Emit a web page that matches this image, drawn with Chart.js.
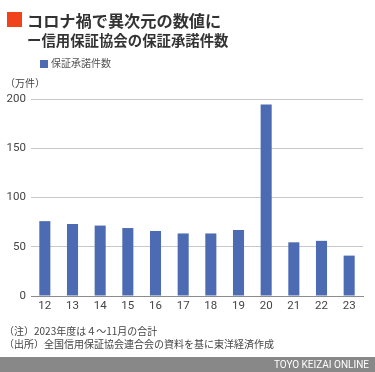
<!DOCTYPE html>
<html><head><meta charset="utf-8">
<script src="https://cdn.jsdelivr.net/npm/chart.js@4"></script>
<style>
html,body{margin:0;padding:0;background:#fff;}
#wrap{position:relative;width:375px;height:372px;overflow:hidden;font-family:"Noto Sans CJK JP",Roboto,sans-serif;}
#c{position:absolute;left:0;top:0;}
.t{position:absolute;white-space:nowrap;color:#333;line-height:1;}
#sq{position:absolute;left:7px;top:12px;width:15px;height:15px;background:#f0431c;}
#t1{left:27px;top:11.5px;font-size:16.2px;font-weight:bold;}
#t2{left:27px;top:33px;font-size:14.4px;font-weight:bold;}
#lg{left:40px;top:58px;font-size:10px;color:#555;}
#lg i{display:inline-block;width:8px;height:8px;background:#4d6bb3;margin-right:3px;vertical-align:-1px;}
#unit{left:5px;top:78px;font-size:10px;color:#444;}
#n1{left:4px;top:326px;font-size:10px;color:#444;}
#n2{left:4px;top:338.5px;font-size:10px;color:#444;}
#ft{position:absolute;left:0;top:357px;width:375px;height:15px;background:#888;}
#ft span{position:absolute;right:6px;top:3px;font-size:10px;line-height:1;color:#fff;font-family:Roboto,sans-serif;}
</style></head>
<body><div id="wrap">
<canvas id="c" width="375" height="372"></canvas>
<div id="sq"></div>
<div class="t" id="t1">コロナ禍で異次元の数値に</div>
<div class="t" id="t2">ー信用保証協会の保証承諾件数</div>
<div class="t" id="lg"><i></i>保証承諾件数</div>
<div class="t" id="unit">（万件）</div>
<div class="t" id="n1">（注）2023年度は４〜11月の合計</div>
<div class="t" id="n2">（出所）全国信用保証協会連合会の資料を基に東洋経済作成</div>
<div id="ft"><span>TOYO KEIZAI ONLINE</span></div>
</div>
<script>
const categories = ["12","13","14","15","16","17","18","19","20","21","22","23"];
const seriesName = "保証承諾件数";
const values = [76, 73, 71.5, 69, 66, 63.5, 63.5, 67, 194.5, 54.5, 56, 41];
const yTicks = [0, 50, 100, 150, 200];

new Chart(document.getElementById('c'), {
  type: 'bar',
  data: { labels: categories, datasets: [{ label: seriesName, data: values, backgroundColor: '#4d6bb3', categoryPercentage: 1, barPercentage: 0.4 }] },
  options: {
    responsive: false, animation: false,
    layout: { padding: { top: 99, left: 0, right: 12, bottom: 56 } },
    plugins: { legend: { display: false }, tooltip: { enabled: false } },
    scales: {
      x: {
        grid: { display: false, drawTicks: false },
        border: { color: '#8c8c8c', width: 1 },
        ticks: { color: '#444', font: { family: 'Roboto', size: 11.5 }, padding: 3 },
        afterFit: s => { s.height = 20; }
      },
      y: {
        min: 0, max: 200,
        afterBuildTicks: s => { s.ticks = yTicks.map(v => ({ value: v })); },
        grid: { color: '#c8c8c8', drawTicks: false, lineWidth: 1 },
        border: { display: false },
        ticks: { color: '#444', font: { family: 'Roboto', size: 11.5 }, padding: 5 },
        afterFit: s => { s.width = 31; }
      }
    }
  }
});
</script>
</body></html>
